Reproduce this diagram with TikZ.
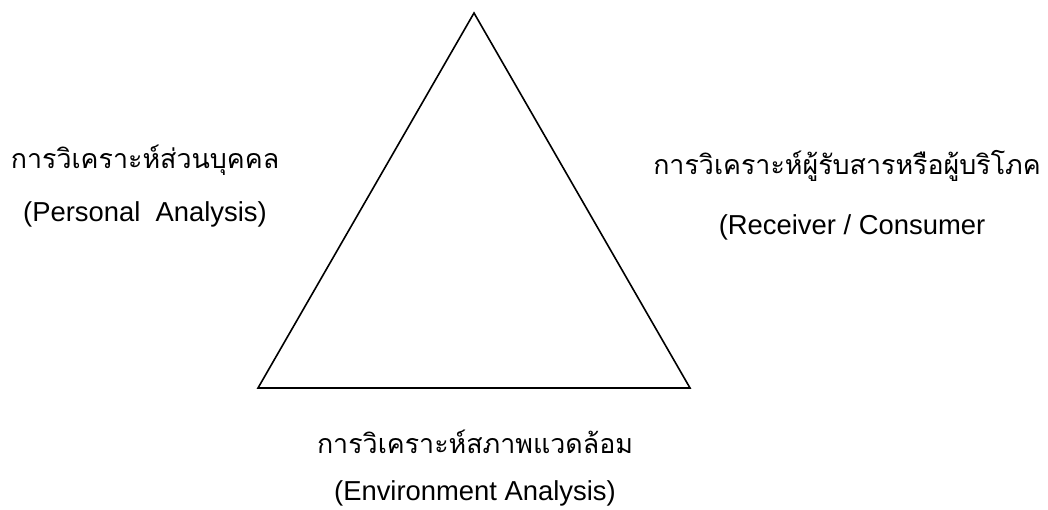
\documentclass[tikz,border=0pt]{standalone}
\usepackage{fontspec}
\setmainfont{Liberation Sans}
\newfontfamily\thaifont[Script=Thai]{Loma}
\tikzset{
  thailabel/.style={font=\thaifont\fontsize{26.8}{32}\selectfont, inner sep=0pt},
  latinlabel/.style={font=\fontsize{27.4}{32}\selectfont, inner sep=0pt},
  edge/.style={line width=1.6pt, line join=miter}
}
\begin{document}
\begin{tikzpicture}[x=1pt,y=-1pt]
  \useasboundingbox (0,0) rectangle (1048,510);
  \fill[white] (0,0) rectangle (1048,510);
  % corners of the triangle
  \coordinate (apex) at (474,13);
  \coordinate (bl) at (258,388);
  \coordinate (br) at (690,388);
  \draw[edge] (apex) -- (bl) -- (br) -- cycle;
  % left corner: personal analysis
  \node[thailabel] (pth) at (145,160) {การวิเคราะห์ส่วนบุคคล};
  \node[latinlabel] (pen) at (145,214) {(Personal\ \ Analysis)};
  % right corner: receiver / consumer
  \node[thailabel] (rth) at (847,166) {การวิเคราะห์ผู้รับสารหรือผู้บริโภค};
  \node[latinlabel] (ren) at (852,227) {(Receiver / Consumer};
  % bottom edge: environment analysis
  \node[thailabel] (eth) at (475,442) {การวิเคราะห์สภาพแวดล้อม};
  \node[latinlabel] (een) at (475,493) {(Environment Analysis)};
\end{tikzpicture}
\end{document}
